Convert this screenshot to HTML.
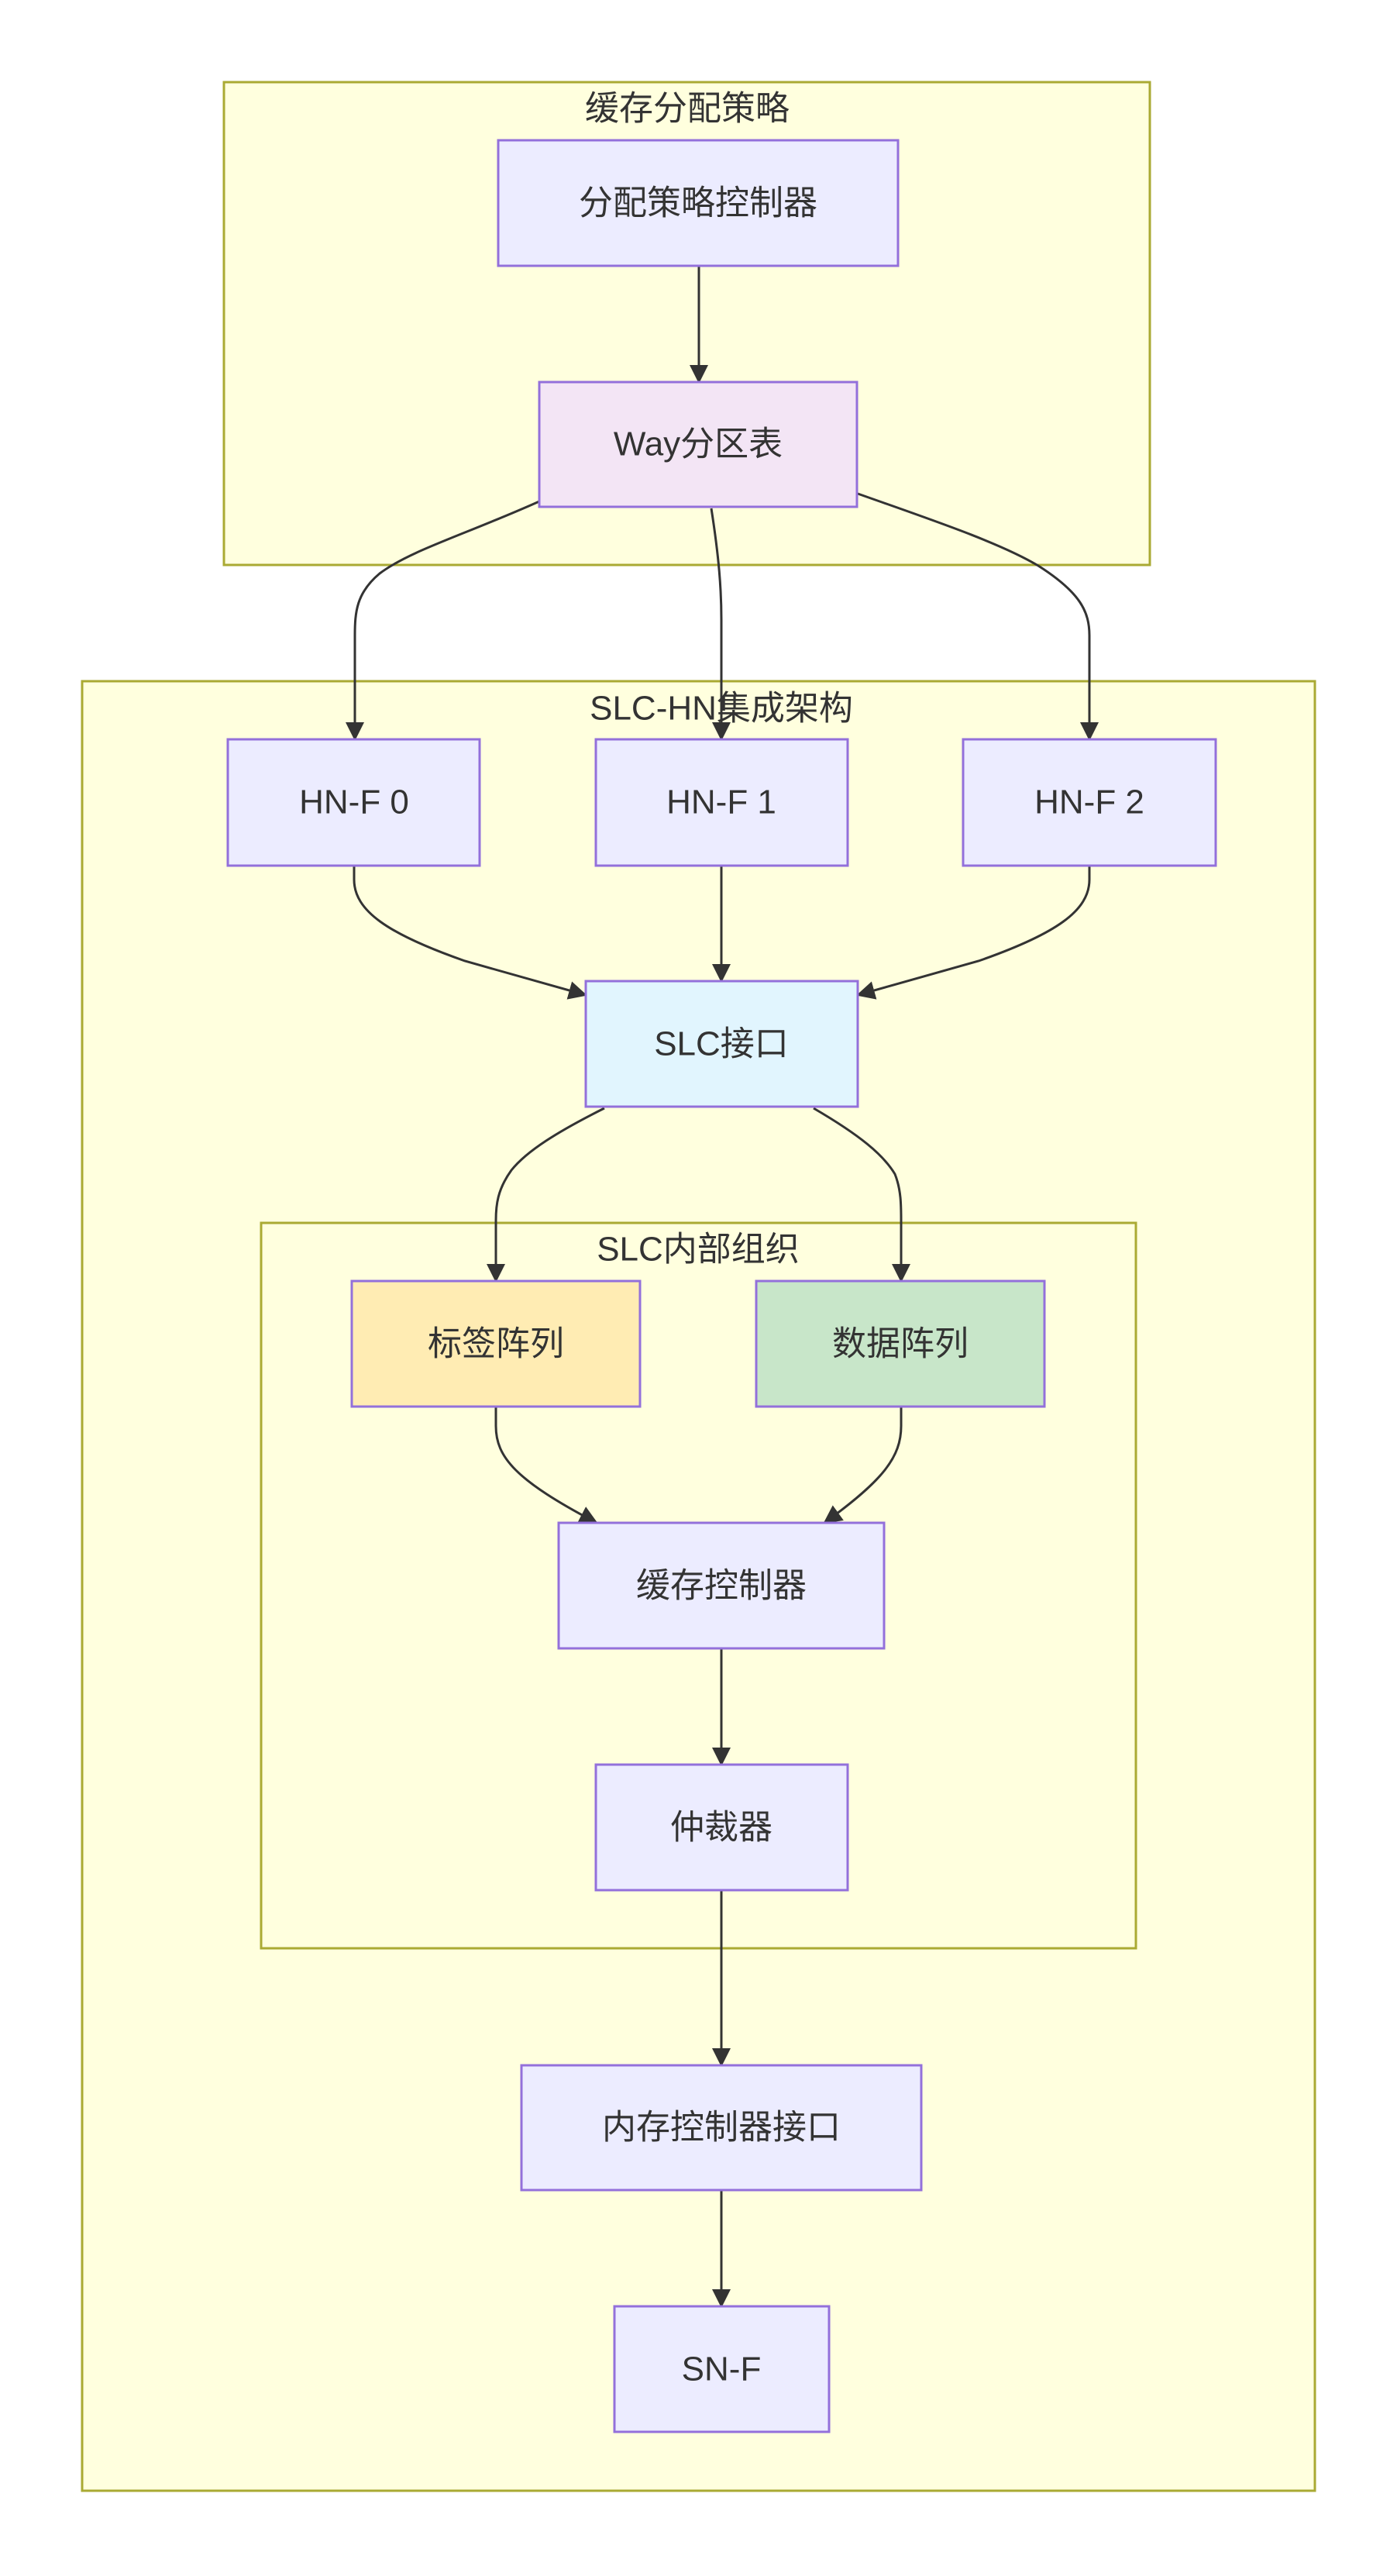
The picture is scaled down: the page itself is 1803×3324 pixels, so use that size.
<!DOCTYPE html>
<html><head><meta charset="utf-8"><style>
html,body{margin:0;padding:0;background:#fff;}
svg text{font-family:"Liberation Sans","Noto Sans CJK SC",sans-serif;fill:#333;text-anchor:middle;dominant-baseline:central;font-size:44px;}
</style></head><body>
<svg width="1803" height="3319" viewBox="0 0 1803 3319" xmlns="http://www.w3.org/2000/svg">
<defs><marker id="a" markerUnits="userSpaceOnUse" markerWidth="24" markerHeight="24" refX="22" refY="12" orient="auto"><path d="M0,0 L24,12 L0,24 z" fill="#333"/></marker></defs>
<g stroke="#aaaa33" stroke-width="3" fill="#ffffde">
<rect x="289" y="106" width="1195" height="623"/>
<rect x="106" y="879" width="1591" height="2335"/>
<rect x="337" y="1578" width="1129" height="936"/>
</g>
<text x="887" y="140">缓存分配策略</text>
<text x="931" y="914">SLC-HN集成架构</text>
<text x="901" y="1612">SLC内部组织</text>
<g fill="none" stroke="#333" stroke-width="3" marker-end="url(#a)">
<path d="M902,343 L902,493"/>
<path d="M696,647 C600,690 530,710 490,740 C460,765 458,790 458,820 L458,954"/>
<path d="M918,656 C928,720 931,760 931,800 L931,954"/>
<path d="M1107,637 C1200,670 1290,700 1340,730 C1395,765 1406,790 1406,820 L1406,954"/>
<path d="M457,1117 L457,1135 C457,1175 500,1205 600,1240 L756,1284"/>
<path d="M931,1117 L931,1266"/>
<path d="M1406,1117 L1406,1135 C1406,1175 1363,1205 1263,1240 L1107,1284"/>
<path d="M780,1430 C720,1460 680,1485 660,1510 C642,1535 640,1555 640,1575 L640,1653"/>
<path d="M1050,1430 C1110,1465 1140,1490 1155,1515 C1163,1535 1163,1555 1163,1575 L1163,1653"/>
<path d="M640,1815 L640,1840 C640,1880 665,1910 770,1965"/>
<path d="M1163,1815 L1163,1840 C1163,1880 1140,1910 1064,1965"/>
<path d="M931,2127 L931,2277"/>
<path d="M931,2439 L931,2665"/>
<path d="M931,2826 L931,2976"/>
</g>
<g stroke="#9370db" stroke-width="3">
<rect x="643" y="181" width="516" height="162" fill="#ececff"/>
<rect x="696" y="493" width="410" height="161" fill="#f3e5f5"/>
<rect x="294" y="954" width="325" height="163" fill="#ececff"/>
<rect x="769" y="954" width="325" height="163" fill="#ececff"/>
<rect x="1243" y="954" width="326" height="163" fill="#ececff"/>
<rect x="756" y="1266" width="351" height="162" fill="#e1f5fe"/>
<rect x="454" y="1653" width="372" height="162" fill="#ffecb3"/>
<rect x="976" y="1653" width="372" height="162" fill="#c8e6c9"/>
<rect x="721" y="1965" width="420" height="162" fill="#ececff"/>
<rect x="769" y="2277" width="325" height="162" fill="#ececff"/>
<rect x="673" y="2665" width="516" height="161" fill="#ececff"/>
<rect x="793" y="2976" width="277" height="162" fill="#ececff"/>
</g>
<text x="901" y="262">分配策略控制器</text>
<text x="901" y="573">Way分区表</text>
<text x="457" y="1035">HN-F 0</text>
<text x="931" y="1035">HN-F 1</text>
<text x="1406" y="1035">HN-F 2</text>
<text x="931" y="1347">SLC接口</text>
<text x="640" y="1734">标签阵列</text>
<text x="1162" y="1734">数据阵列</text>
<text x="931" y="2046">缓存控制器</text>
<text x="931" y="2358">仲裁器</text>
<text x="931" y="2745">内存控制器接口</text>
<text x="931" y="3057">SN-F</text>
</svg>
</body></html>
